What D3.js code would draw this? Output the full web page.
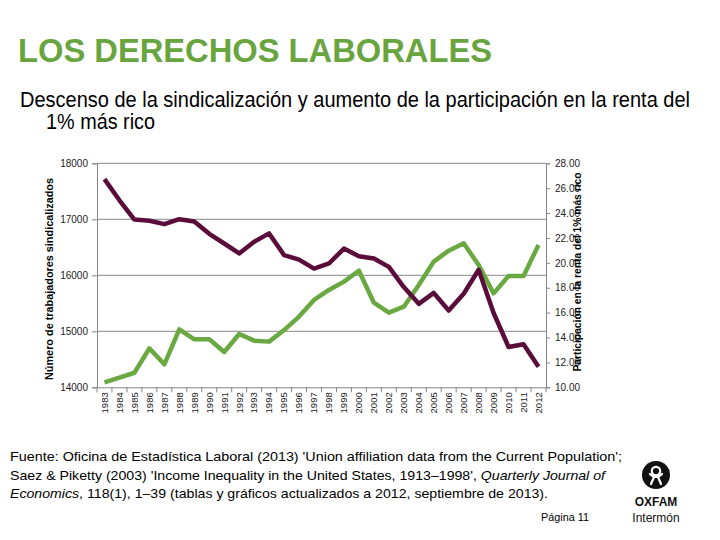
<!DOCTYPE html>
<html><head><meta charset="utf-8">
<script src="https://cdn.jsdelivr.net/npm/d3@7"></script>
<style>html,body{margin:0;padding:0;background:#fff;}svg{display:block;font-family:Arial,"Liberation Sans",sans-serif;}</style>
</head><body>
<svg id="c" width="720" height="540"></svg>
<script>
const years = d3.range(1983, 2013).map(String);
const unionMembers = [17717,17340,16996,16975,16913,17002,16960,16740,16568,16390,16598,16748,16360,16280,16120,16211,16477,16340,16300,16150,15790,15490,15685,15370,15670,16098,15327,14720,14770,14366];
const top1Share = [10.40,10.77,11.17,13.13,11.85,14.66,13.86,13.86,12.84,14.28,13.75,13.67,14.60,15.68,17.02,17.82,18.49,19.37,16.80,16.00,16.48,18.22,20.10,20.98,21.57,19.83,17.55,18.95,18.95,21.44];
const leftTicks = [14000,15000,16000,17000,18000];
const rightTicks = [10,12,14,16,18,20,22,24,26,28];

const svg = d3.select("#c");
const L = 97, R = 546, T = 163.3, B = 387.3;
const x = d3.scaleBand().domain(years).range([L, R]).padding(0);
const yL = d3.scaleLinear().domain([14000, 18000]).range([B, T]);
const yR = d3.scaleLinear().domain([10, 28]).range([B, T]);
const axisCol = "#868686";

// Titles
svg.append("text").attr("x", 18).attr("y", 62).attr("fill", "#68a53f")
  .attr("font-size", 32.5).attr("font-weight", "bold")
  .attr("textLength", 474).attr("lengthAdjust", "spacingAndGlyphs")
  .text("LOS DERECHOS LABORALES");
svg.append("text").attr("transform", "translate(20,107) scale(1,1.13)").attr("fill", "#000").attr("font-size", 19)
  .attr("textLength", 670).attr("lengthAdjust", "spacingAndGlyphs")
  .text("Descenso de la sindicalización y aumento de la participación en la renta del");
svg.append("text").attr("transform", "translate(46,129) scale(1,1.13)").attr("fill", "#000").attr("font-size", 19)
  .attr("textLength", 109).attr("lengthAdjust", "spacingAndGlyphs")
  .text("1% más rico");

// Gridlines
svg.append("g").selectAll("line").data(leftTicks.filter(d => d > 14000)).join("line")
  .attr("x1", L).attr("x2", R).attr("y1", d => yL(d)).attr("y2", d => yL(d))
  .attr("stroke", axisCol).attr("stroke-width", 1);

// Left axis
const gL = svg.append("g").attr("transform", `translate(${L},0)`)
  .call(d3.axisLeft(yL).tickValues(leftTicks).tickSize(5).tickPadding(4).tickFormat(d3.format("d")));
gL.selectAll("path,line").attr("stroke", axisCol);
gL.selectAll("text").attr("font-size", 10).attr("fill", "#222").attr("font-family", "Arial,'Liberation Sans',sans-serif");

// Right axis
const gR = svg.append("g").attr("transform", `translate(${R},0)`)
  .call(d3.axisRight(yR).tickValues(rightTicks).tickSize(4).tickPadding(5).tickFormat(d3.format(".2f")));
gR.selectAll("path,line").attr("stroke", axisCol);
gR.selectAll("text").attr("font-size", 10).attr("fill", "#222").attr("font-family", "Arial,'Liberation Sans',sans-serif");

// Bottom axis
const gB = svg.append("g").attr("transform", `translate(0,${B})`)
  .call(d3.axisBottom(x).tickSize(0).tickPadding(0));
gB.select("path").attr("stroke", axisCol);
gB.selectAll("text").attr("font-size", 9.5).attr("fill", "#222")
  .attr("font-family", "Arial,'Liberation Sans',sans-serif")
  .attr("transform", "rotate(-90)").attr("text-anchor", "end")
  .attr("x", -5).attr("y", 0).attr("dy", "0.35em");
// category boundary ticks
svg.append("g").selectAll("line").data(years.concat(["end"])).join("line")
  .attr("x1", d => d === "end" ? R : x(d)).attr("x2", d => d === "end" ? R : x(d))
  .attr("y1", B).attr("y2", B + 5).attr("stroke", axisCol);

// Lines
const cx = d => x(d) + x.bandwidth() / 2;
svg.append("path").datum(years)
  .attr("fill", "none").attr("stroke", "#6aa842").attr("stroke-width", 4.5).attr("stroke-linejoin", "round")
  .attr("d", d3.line().x(d => cx(d)).y((d, i) => yR(top1Share[i])));
svg.append("path").datum(years)
  .attr("fill", "none").attr("stroke", "#5a0d3a").attr("stroke-width", 4.5).attr("stroke-linejoin", "round")
  .attr("d", d3.line().x(d => cx(d)).y((d, i) => yL(unionMembers[i])));

// Axis titles
svg.append("text").attr("transform", `translate(53,279) rotate(-90)`).attr("text-anchor", "middle")
  .attr("font-size", 11).attr("font-weight", "bold").attr("fill", "#000")
  .attr("textLength", 202).attr("lengthAdjust", "spacingAndGlyphs")
  .text("Número de trabajadores sindicalizados");
svg.append("text").attr("transform", `translate(581,272) rotate(-90)`).attr("text-anchor", "middle")
  .attr("font-size", 11).attr("font-weight", "bold").attr("fill", "#000")
  .attr("textLength", 199).attr("lengthAdjust", "spacingAndGlyphs")
  .text("Participación en la renta del 1% más rico");

// Footnote
const foot = svg.append("text").attr("font-size", 13).attr("fill", "#000");
foot.append("tspan").attr("x", 10).attr("y", 461)
  .attr("textLength", 612).attr("lengthAdjust", "spacingAndGlyphs")
  .text("Fuente: Oficina de Estadística Laboral (2013) 'Union affiliation data from the Current Population';");
const l2 = svg.append("text").attr("font-size", 13).attr("fill", "#000").attr("x", 10).attr("y", 480)
  .attr("textLength", 595).attr("lengthAdjust", "spacingAndGlyphs");
l2.append("tspan").text("Saez & Piketty (2003) 'Income Inequality in the United States, 1913–1998', ");
l2.append("tspan").attr("font-style", "italic").text("Quarterly Journal of");
const l3 = svg.append("text").attr("font-size", 13).attr("fill", "#000").attr("x", 10).attr("y", 498)
  .attr("textLength", 538).attr("lengthAdjust", "spacingAndGlyphs");
l3.append("tspan").attr("font-style", "italic").text("Economics");
l3.append("tspan").text(", 118(1), 1–39 (tablas y gráficos actualizados a 2012, septiembre de 2013).");

svg.append("text").attr("x", 541).attr("y", 521).attr("font-size", 10).attr("fill", "#000")
  .attr("textLength", 48).attr("lengthAdjust", "spacingAndGlyphs").text("Página 11");

// Logo
const lg = svg.append("g").attr("transform", "translate(656,475)");
lg.append("circle").attr("r", 14).attr("fill", "#111");
lg.append("circle").attr("cx", 0).attr("cy", -4).attr("r", 4.2).attr("fill", "none").attr("stroke", "#fff").attr("stroke-width", 2.2);
lg.append("path").attr("d", "M-6,-1 L-2,2 L-5,9 M6,-1 L2,2 L5,9 M-2,2 L2,2").attr("fill", "none").attr("stroke", "#fff").attr("stroke-width", 2.2).attr("stroke-linecap", "round");
svg.append("text").attr("x", 656).attr("y", 506).attr("text-anchor", "middle").attr("font-size", 12).attr("font-weight", "bold").attr("fill", "#111").text("OXFAM");
svg.append("text").attr("x", 656).attr("y", 522).attr("text-anchor", "middle").attr("font-size", 12).attr("fill", "#111").text("Intermón");
</script>
</body></html>
